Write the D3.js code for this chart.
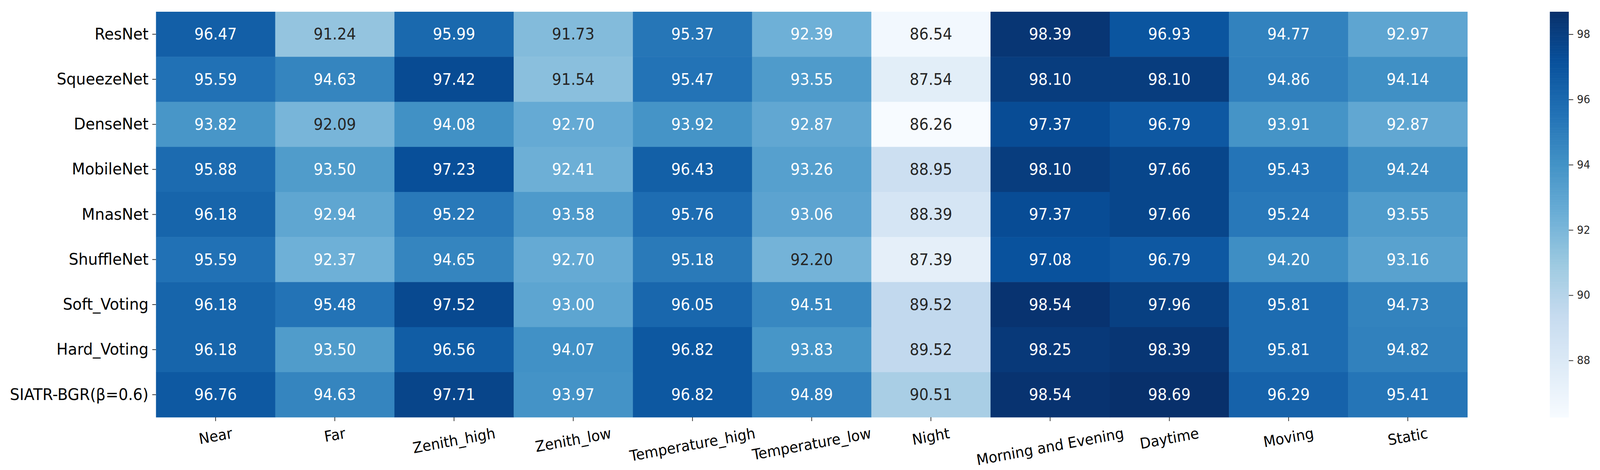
<!DOCTYPE html>
<html>
<head>
<meta charset="utf-8">
<script src="https://cdn.jsdelivr.net/npm/d3@7"></script>
<style>
  html, body { margin: 0; padding: 0; background: #fff; overflow: hidden; }
  svg { display: block; font-family: "DejaVu Sans", sans-serif; }
</style>
</head>
<body>
<div id="chart"></div>
<script>
// models (rows) and conditions (columns)
var models = ["ResNet", "SqueezeNet", "DenseNet", "MobileNet", "MnasNet", "ShuffleNet",
              "Soft_Voting", "Hard_Voting", "SIATR-BGR(β=0.6)"];
var conditions = ["Near", "Far", "Zenith_high", "Zenith_low", "Temperature_high", "Temperature_low",
                  "Night", "Morning and Evening", "Daytime", "Moving", "Static"];

// accuracy values, one array per model
var resnet      = [96.47, 91.24, 95.99, 91.73, 95.37, 92.39, 86.54, 98.39, 96.93, 94.77, 92.97];
var squeezenet  = [95.59, 94.63, 97.42, 91.54, 95.47, 93.55, 87.54, 98.10, 98.10, 94.86, 94.14];
var densenet    = [93.82, 92.09, 94.08, 92.70, 93.92, 92.87, 86.26, 97.37, 96.79, 93.91, 92.87];
var mobilenet   = [95.88, 93.50, 97.23, 92.41, 96.43, 93.26, 88.95, 98.10, 97.66, 95.43, 94.24];
var mnasnet     = [96.18, 92.94, 95.22, 93.58, 95.76, 93.06, 88.39, 97.37, 97.66, 95.24, 93.55];
var shufflenet  = [95.59, 92.37, 94.65, 92.70, 95.18, 92.20, 87.39, 97.08, 96.79, 94.20, 93.16];
var softVoting  = [96.18, 95.48, 97.52, 93.00, 96.05, 94.51, 89.52, 98.54, 97.96, 95.81, 94.73];
var hardVoting  = [96.18, 93.50, 96.56, 94.07, 96.82, 93.83, 89.52, 98.25, 98.39, 95.81, 94.82];
var siatr       = [96.76, 94.63, 97.71, 93.97, 96.82, 94.89, 90.51, 98.54, 98.69, 96.29, 95.41];

var colorbarTicks = [88, 90, 92, 94, 96, 98];

var rows = [resnet, squeezenet, densenet, mobilenet, mnasnet, shufflenet, softVoting, hardVoting, siatr];

// flatten into cells
var cells = [];
rows.forEach(function(vals, i) {
    vals.forEach(function(v, j) {
        cells.push({model: models[i], cond: conditions[j], value: v});
    });
});

var W = 4308, H = 1202;
var plot = {left: 420, top: 30, right: 3951, bottom: 1067};
var cbar = {left: 4173, right: 4224};

// drawn in a fixed 4308x1202 coordinate system, stretched to the window
var svg = d3.select("#chart")
  .append("svg")
    .attr("viewBox", "0 0 " + W + " " + H)
    .attr("preserveAspectRatio", "none")
    .style("width", "100vw")
    .style("height", "100vh");

var x = d3.scaleBand()
    .domain(conditions)
    .range([plot.left, plot.right]);

var y = d3.scaleBand()
    .domain(models)
    .range([plot.top, plot.bottom]);

var allVals = cells.map(function(d) { return d.value; });
var vmin = d3.min(allVals), vmax = d3.max(allVals);

// matplotlib "Blues" is piecewise linear through the 9 ColorBrewer colours
var blues = d3.piecewise(d3.interpolateRgb, d3.schemeBlues[9]);
var color = d3.scaleSequential(blues).domain([vmin, vmax]);

// seaborn picks annotation colour by relative luminance
function luminance(c) {
    var rgb = d3.rgb(c);
    var ch = [rgb.r, rgb.g, rgb.b].map(function(v) {
        v = v / 255;
        return v <= 0.03928 ? v / 12.92 : Math.pow((v + 0.055) / 1.055, 2.4);
    });
    return 0.2126 * ch[0] + 0.7152 * ch[1] + 0.0722 * ch[2];
}

// cells
svg.append("g")
  .selectAll("rect")
  .data(cells)
  .enter()
  .append("rect")
    .attr("x", function(d) { return x(d.cond); })
    .attr("y", function(d) { return y(d.model); })
    .attr("width", x.bandwidth() + 0.5)
    .attr("height", y.bandwidth() + 0.5)
    .style("fill", function(d) { return color(d.value); });

// annotations
svg.append("g")
  .selectAll("text")
  .data(cells)
  .enter()
  .append("text")
    .attr("x", function(d) { return x(d.cond) + x.bandwidth() / 2; })
    .attr("y", function(d) { return y(d.model) + y.bandwidth() / 2; })
    .attr("text-anchor", "middle")
    .attr("dominant-baseline", "central")
    .style("font-size", "40px")
    .style("fill", function(d) { return luminance(color(d.value)) > 0.408 ? "#262626" : "#ffffff"; })
    .text(function(d) { return d.value.toFixed(2); });

// y axis
var yAxis = svg.append("g")
    .attr("transform", "translate(" + plot.left + ",0)")
    .call(d3.axisLeft(y).tickSize(10).tickPadding(10));
yAxis.select(".domain").remove();
yAxis.selectAll("line").attr("stroke", "#333").attr("stroke-width", 2);
yAxis.selectAll("text")
    .style("font-size", "41px")
    .style("font-family", "DejaVu Sans")
    .attr("fill", "#000");

// x axis with rotated labels (matplotlib style: rotate, then center bbox under tick)
var xAxis = svg.append("g")
    .attr("transform", "translate(0," + plot.bottom + ")")
    .call(d3.axisBottom(x).tickSize(10).tickPadding(10));
xAxis.select(".domain").remove();
xAxis.selectAll("line").attr("stroke", "#333").attr("stroke-width", 2);

var angle = 10, rad = angle * Math.PI / 180, fs = 38;
xAxis.selectAll("text")
    .style("font-size", fs + "px")
    .style("font-family", "DejaVu Sans")
    .attr("fill", "#000")
    .attr("dy", null)
    .attr("y", 0)
    .attr("dominant-baseline", "central")
    .attr("text-anchor", "middle")
    .each(function() {
        var w = this.getComputedTextLength();
        var h = fs * 1.1;
        var bh = w * Math.sin(rad) + h * Math.cos(rad);
        var cy = 10 + 10 + bh / 2;
        d3.select(this).attr("transform", "translate(0," + cy + ") rotate(" + (-angle) + ")");
    });

// colorbar
var cy = d3.scaleLinear()
    .domain([vmin, vmax])
    .range([plot.bottom, plot.top]);

var steps = d3.range(0, 400);
svg.append("g")
  .selectAll("rect")
  .data(steps)
  .enter()
  .append("rect")
    .attr("x", cbar.left)
    .attr("width", cbar.right - cbar.left)
    .attr("y", function(i) { return cy(vmin + (i + 1) / steps.length * (vmax - vmin)); })
    .attr("height", (plot.bottom - plot.top) / steps.length + 0.6)
    .style("fill", function(i) { return color(vmin + (i + 0.5) / steps.length * (vmax - vmin)); });

var cAxis = svg.append("g")
    .attr("transform", "translate(" + cbar.right + ",0)")
    .call(d3.axisRight(cy).tickValues(colorbarTicks).tickSize(12).tickPadding(10));
cAxis.select(".domain").remove();
cAxis.selectAll("line").attr("stroke", "#333").attr("stroke-width", 2);
cAxis.selectAll("text")
    .style("font-size", "28px")
    .style("font-family", "DejaVu Sans")
    .attr("fill", "#262626");
</script>
</body>
</html>
